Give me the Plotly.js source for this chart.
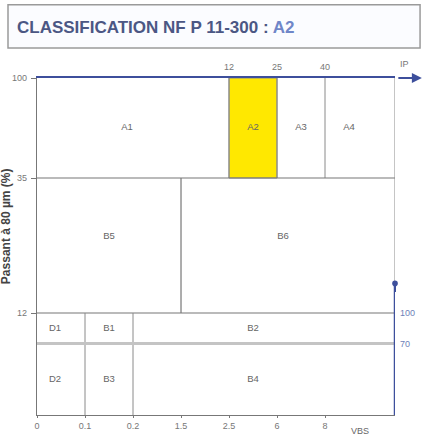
<!DOCTYPE html>
<html>
<head>
<meta charset="utf-8">
<script src="https://cdn.plot.ly/plotly-3.0.1.min.js"></script>
<style>html,body{margin:0;padding:0;background:#fff;}#chart{width:425px;height:437px;}</style>
</head>
<body>
<div id="chart"></div>
<script>
// ---- data ----
const chartTitle = 'CLASSIFICATION NF P 11-300 : ';
const selectedClass = 'A2';
const vbsTicks = ['0', '0.1', '0.2', '1.5', '2.5', '6', '8'];
const ipTicks = ['12', '25', '40'];
const fines80Ticks = ['12', '35', '100'];
const pass2mmTicks = ['70', '100'];
const ipBounds = [12, 25, 40];
const vbsBounds = [0.1, 0.2, 1.5];
const fines80Bounds = [12, 35];
const pass2mmBound = 70;
const classesA = ['A1', 'A2', 'A3', 'A4'];
const classesB = ['B5', 'B6'];
const classesUpper = ['D1', 'B1', 'B2'];
const classesLower = ['D2', 'B3', 'B4'];

// ---- schematic (non-linear) axis layout ----
const xEnd = 7.458;                 // right edge of the schematic
const labelEnd = 7;                 // right reference for label centring
const ipTickPos = [4, 5, 6];        // IP ticks sit above VBS 2.5, 6, 8
const fines80Pos = {0: 0, 12: 102, 35: 237, 100: 337};
const yMax = 337;
const y2Max = 330.4;

const vbsX = v => vbsTicks.map(Number).indexOf(v);
const ipX = v => ipTickPos[ipTicks.map(Number).indexOf(v)];
const fY = v => fines80Pos[v];

const grey = '#8a8a8a';
const blue = '#3d4f9c';
const FONT = 'Liberation Sans, Arial, sans-serif';
const shapes = [];
function vline(x, y0, y1, color, w, yref) {
  shapes.push({type: 'line', xref: 'x', yref: yref || 'y', x0: x, x1: x, y0: y0, y1: y1,
    line: {color: color || grey, width: w || 1}});
}
function hline(y, x0, x1, color, w, yref) {
  shapes.push({type: 'line', xref: 'x', yref: yref || 'y', x0: x0, x1: x1, y0: y, y1: y,
    line: {color: color || grey, width: w || 1}});
}

// title box
shapes.push({type: 'rect', xref: 'paper', yref: 'paper', x0: -0.081, x1: 1.07, y0: 1.089, y1: 1.217,
  fillcolor: '#fbfcff', line: {color: '#9a9a9a', width: 1.5}, layer: 'below'});

// selected class (A2) highlight
const selIdx = classesA.indexOf(selectedClass);
const aEdges = [0].concat(ipBounds.map(ipX)).concat([xEnd]);
shapes.push({type: 'rect', xref: 'x', yref: 'y', x0: aEdges[selIdx], x1: aEdges[selIdx + 1],
  y0: fY(fines80Bounds[1]), y1: fY(100), fillcolor: '#ffe800', line: {color: grey, width: 1}, layer: 'below'});

// A boundaries (IP)
ipBounds.forEach(v => vline(ipX(v), fY(fines80Bounds[1]), fY(100)));
// horizontal fines boundaries
fines80Bounds.forEach(v => hline(fY(v), -0.12, xEnd, '#777', 1.2));
// B5 / B6 boundary (VBS 1.5)
vline(vbsX(vbsBounds[2]), fY(fines80Bounds[0]), fY(fines80Bounds[1]), '#777', 1.2);
// D / B boundaries (VBS 0.1, 0.2)
vline(vbsX(vbsBounds[0]), 0, fY(fines80Bounds[0]));
vline(vbsX(vbsBounds[1]), 0, fY(fines80Bounds[0]));
// passing 2 mm = 70
hline(pass2mmBound, 0, xEnd, '#c4c4c4', 3, 'y2');
// right edge of upper part
vline(xEnd, fY(fines80Bounds[0]), fY(100), grey, 1);
// right blue axis (passing 2 mm)
vline(xEnd, 0, 129, blue, 2.5, 'y2');

// region labels
const lx = [], ly = [], lt = [];
function addLabel(t, x0, x1, y0, y1) { lx.push((x0 + x1) / 2); ly.push((y0 + y1) / 2); lt.push(t); }
const aLab = [0].concat(ipBounds.map(ipX)).concat([labelEnd]);
classesA.forEach((c, i) => addLabel(c, aLab[i] - (i === 0 ? 0.25 : 0), aLab[i + 1], fY(35), fY(100)));
addLabel(classesB[0], 0, vbsX(1.5), fY(12) + 18, fY(35));
addLabel(classesB[1], vbsX(1.5), labelEnd + 0.25, fY(12) + 18, fY(35));
const dEdges = [0, vbsX(0.1), vbsX(0.2), labelEnd];
const y70 = pass2mmBound * yMax / y2Max;
classesUpper.forEach((c, i) => addLabel(c, dEdges[i] - (i === 0 ? 0.25 : 0), dEdges[i + 1], y70, fY(12)));
classesLower.forEach((c, i) => addLabel(c, dEdges[i] - (i === 0 ? 0.25 : 0), dEdges[i + 1], 0, y70));

const traces = [
  {x: lx, y: ly, text: lt, mode: 'text', type: 'scatter', hoverinfo: 'skip',
   textfont: {family: FONT, size: 9.5, color: '#666'}, showlegend: false},
  {x: [0], y: [0], xaxis: 'x2', yaxis: 'y2', mode: 'markers', marker: {opacity: 0}, showlegend: false, hoverinfo: 'skip'}
];

const tickFont = {family: FONT, size: 9, color: '#777'};
const layout = {
  width: 425, height: 437,
  margin: {l: 37, r: 30, t: 78, b: 22, pad: 0},
  paper_bgcolor: '#ffffff', plot_bgcolor: '#ffffff',
  showlegend: false,
  title: {text: '<b>' + chartTitle + '<span style="color:#6f86c8">' + selectedClass + '</span></b>',
    x: 17 / 425, xanchor: 'left', y: 1 - 27 / 437, yanchor: 'middle',
    font: {family: FONT, size: 17, color: '#4b5784'}},
  xaxis: {range: [0, xEnd], tickvals: vbsTicks.map((t, i) => i), ticktext: vbsTicks,
    showgrid: false, zeroline: false, showline: true, linecolor: '#777', linewidth: 1.2,
    ticks: 'outside', ticklen: 2, tickcolor: '#777', ticklabelstandoff: 0, tickfont: tickFont, fixedrange: true},
  xaxis2: {range: [0, xEnd], overlaying: 'x', side: 'top', tickvals: ipTickPos, ticktext: ipTicks,
    showgrid: false, zeroline: false, showline: true, linecolor: blue, linewidth: 2.5,
    ticks: '', ticklabelstandoff: 2, tickfont: tickFont, fixedrange: true},
  yaxis: {range: [0, yMax], tickvals: fines80Ticks.map(t => fY(Number(t))), ticktext: fines80Ticks,
    showgrid: false, zeroline: false, showline: true, linecolor: '#777', linewidth: 1.2,
    ticks: 'outside', ticklen: 5, tickcolor: '#777', ticklabelstandoff: 2, tickfont: tickFont, fixedrange: true},
  yaxis2: {range: [0, y2Max], overlaying: 'y', side: 'right', tickvals: pass2mmTicks.map(Number), ticktext: pass2mmTicks,
    showgrid: false, zeroline: false, showline: false, ticks: '', ticklabelstandoff: 4,
    tickfont: {family: FONT, size: 9, color: '#6d7fb8'}, fixedrange: true},
  shapes: shapes,
  annotations: [
    {xref: 'paper', yref: 'paper', x: -0.087, y: 0.56, xanchor: 'center', yanchor: 'middle',
     text: '<b>Passant à 80 µm (%)</b>', textangle: -90,
     showarrow: false, font: {family: FONT, size: 12, color: '#444'}},
    {xref: 'paper', yref: 'paper', x: 1.045, y: 1.02, yanchor: 'bottom', text: 'IP', showarrow: false,
     font: {family: FONT, size: 9, color: '#777'}},
    {xref: 'paper', yref: 'paper', x: 0.933, y: -0.047, text: 'VBS', showarrow: false, yanchor: 'middle',
     font: {family: FONT, size: 9, color: '#666'}},
    {xref: 'paper', yref: 'paper', x: 1.075, y: 1, ax: -25, ay: 0, text: '', showarrow: true,
     arrowhead: 2, arrowsize: 1, arrowwidth: 2, arrowcolor: blue},
    {xref: 'x', yref: 'y2', x: xEnd, y: 129, ax: 0, ay: 10, text: '', showarrow: true,
     arrowhead: 6, arrowsize: 0.7, arrowwidth: 2, arrowcolor: blue}
  ]
};

Plotly.newPlot('chart', traces, layout, {staticPlot: true, displayModeBar: false});
</script>
</body>
</html>
